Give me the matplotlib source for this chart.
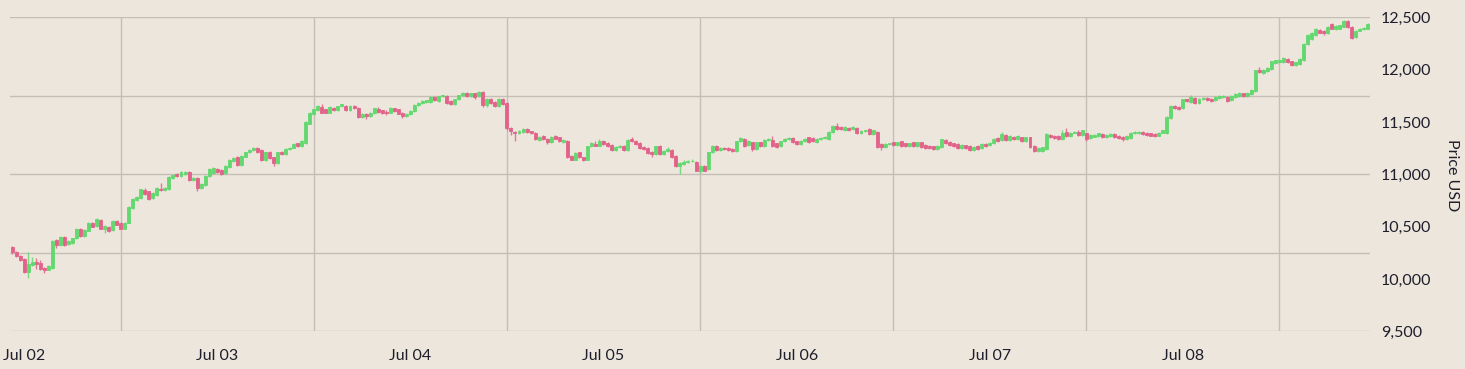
import matplotlib
matplotlib.use('Agg')
import matplotlib.pyplot as plt
import matplotlib.dates as mdates
import matplotlib.ticker as mticker
import pandas as pd

# ---- data (30-minute candles) ----
opens = [
    10308, 10260, 10222, 10191, 10064, 10134, 10166, 10150, 10109, 10090, 10109, 10371, 10324, 10403, 10330, 10340, 10387, 10475, 10412, 10463,
    10539, 10507, 10564, 10476, 10498, 10469, 10555, 10532, 10482, 10539, 10678, 10751, 10773, 10846, 10836, 10773, 10805, 10861, 10849, 10855,
    10963, 11001, 10982, 11004, 11026, 10941, 10963, 10868, 10900, 10982, 11013, 11051, 11045, 11013, 11067, 11130, 11168, 11089, 11170, 11209,
    11231, 11250, 11231, 11136, 11215, 11162, 11111, 11212, 11193, 11240, 11256, 11295, 11270, 11300, 11484, 11579, 11611, 11642, 11620, 11589,
    11636, 11617, 11649, 11652, 11617, 11652, 11636, 11547, 11579, 11557, 11585, 11624, 11610, 11598, 11589, 11630, 11620, 11590, 11554, 11579,
    11604, 11661, 11684, 11690, 11693, 11737, 11700, 11744, 11747, 11700, 11668, 11715, 11753, 11775, 11747, 11772, 11747, 11785, 11658, 11721,
    11690, 11652, 11721, 11683, 11446, 11405, 11393, 11400, 11430, 11410, 11393, 11330, 11367, 11342, 11310, 11367, 11352, 11310, 11320, 11172,
    11140, 11209, 11162, 11140, 11266, 11290, 11275, 11320, 11300, 11278, 11234, 11260, 11272, 11231, 11335, 11320, 11300, 11260, 11250, 11215,
    11193, 11266, 11193, 11225, 11235, 11172, 11076, 11100, 11114, 11125, 11120, 11035, 11083, 11051, 11209, 11273, 11231, 11255, 11250, 11240,
    11225, 11314, 11336, 11282, 11304, 11241, 11304, 11272, 11326, 11326, 11295, 11272, 11314, 11336, 11345, 11314, 11288, 11320, 11352, 11345,
    11304, 11336, 11345, 11336, 11400, 11462, 11452, 11420, 11446, 11430, 11446, 11390, 11415, 11430, 11383, 11408, 11288, 11257, 11288, 11304,
    11282, 11314, 11295, 11270, 11304, 11273, 11304, 11282, 11273, 11266, 11244, 11257, 11326, 11307, 11295, 11288, 11250, 11276, 11270, 11231,
    11270, 11250, 11290, 11276, 11295, 11345, 11326, 11377, 11326, 11358, 11333, 11352, 11320, 11352, 11270, 11219, 11225, 11238, 11377, 11367,
    11364, 11333, 11408, 11364, 11399, 11400, 11377, 11390, 11345, 11360, 11364, 11383, 11352, 11364, 11383, 11370, 11358, 11339, 11345, 11396,
    11396, 11402, 11396, 11390, 11383, 11370, 11399, 11390, 11541, 11652, 11645, 11636, 11715, 11690, 11731, 11677, 11721, 11728, 11721, 11709,
    11731, 11737, 11740, 11709, 11740, 11747, 11772, 11747, 11766, 11794, 11993, 11968, 11985, 12006, 12063, 12076, 12076, 12101, 12079, 12047,
    12057, 12095, 12246, 12291, 12329, 12379, 12373, 12348, 12436, 12386, 12392, 12411, 12468, 12411, 12310, 12373, 12386, 12392,
]
highs = [
    10318, 10270, 10232, 10200, 10254, 10213, 10200, 10180, 10118, 10138, 10372, 10380, 10412, 10412, 10370, 10395, 10484, 10484, 10474, 10548,
    10548, 10578, 10572, 10512, 10506, 10560, 10564, 10540, 10548, 10696, 10776, 10790, 10864, 10870, 10845, 10828, 10876, 10918, 10876, 10980,
    11002, 11009, 11028, 11034, 11034, 10977, 10971, 10917, 10996, 11059, 11065, 11059, 11053, 11091, 11144, 11163, 11176, 11185, 11217, 11239,
    11264, 11258, 11239, 11217, 11223, 11170, 11217, 11220, 11248, 11264, 11296, 11303, 11328, 11511, 11597, 11628, 11660, 11675, 11628, 11650,
    11644, 11657, 11676, 11660, 11660, 11660, 11644, 11587, 11587, 11591, 11638, 11645, 11618, 11615, 11644, 11638, 11628, 11598, 11587, 11612,
    11669, 11692, 11708, 11714, 11745, 11745, 11752, 11761, 11755, 11708, 11723, 11761, 11783, 11783, 11780, 11780, 11793, 11793, 11729, 11729,
    11698, 11729, 11729, 11691, 11454, 11413, 11423, 11440, 11440, 11418, 11401, 11368, 11375, 11350, 11368, 11375, 11360, 11337, 11328, 11180,
    11211, 11217, 11170, 11274, 11306, 11320, 11340, 11328, 11308, 11286, 11268, 11280, 11280, 11334, 11352, 11328, 11308, 11268, 11258, 11223,
    11274, 11280, 11233, 11260, 11243, 11180, 11116, 11140, 11133, 11150, 11128, 11091, 11091, 11217, 11281, 11281, 11258, 11263, 11258, 11248,
    11322, 11353, 11344, 11328, 11312, 11312, 11312, 11334, 11344, 11370, 11303, 11322, 11344, 11353, 11353, 11322, 11328, 11344, 11360, 11353,
    11344, 11353, 11366, 11416, 11470, 11494, 11460, 11460, 11454, 11460, 11454, 11423, 11428, 11438, 11428, 11416, 11296, 11296, 11303, 11312,
    11312, 11322, 11303, 11303, 11312, 11312, 11312, 11290, 11281, 11274, 11281, 11341, 11334, 11315, 11303, 11296, 11290, 11284, 11278, 11271,
    11278, 11296, 11298, 11309, 11347, 11353, 11400, 11385, 11372, 11366, 11372, 11360, 11360, 11360, 11278, 11258, 11265, 11391, 11385, 11375,
    11372, 11420, 11440, 11407, 11416, 11420, 11428, 11398, 11385, 11385, 11398, 11391, 11385, 11391, 11391, 11378, 11366, 11372, 11404, 11410,
    11410, 11410, 11404, 11398, 11391, 11407, 11428, 11553, 11660, 11660, 11653, 11723, 11723, 11760, 11739, 11729, 11739, 11736, 11729, 11748,
    11755, 11760, 11748, 11755, 11774, 11786, 11780, 11786, 11818, 12001, 12025, 12008, 12024, 12087, 12096, 12103, 12125, 12109, 12087, 12077,
    12109, 12254, 12343, 12362, 12400, 12387, 12381, 12419, 12450, 12425, 12431, 12476, 12476, 12419, 12381, 12394, 12406, 12444,
]
lows = [
    10240, 10212, 10170, 10055, 10007, 10125, 10100, 10088, 10060, 10082, 10100, 10300, 10316, 10315, 10322, 10332, 10380, 10404, 10404, 10455,
    10493, 10500, 10474, 10440, 10452, 10460, 10512, 10474, 10474, 10530, 10670, 10743, 10765, 10806, 10759, 10765, 10797, 10841, 10841, 10847,
    10955, 10974, 10974, 10996, 10933, 10933, 10840, 10860, 10892, 10974, 11005, 11012, 10996, 11005, 11059, 11122, 11078, 11081, 11162, 11201,
    11223, 11202, 11128, 11128, 11147, 11080, 11103, 11185, 11185, 11232, 11248, 11262, 11262, 11292, 11476, 11571, 11603, 11581, 11581, 11581,
    11609, 11609, 11641, 11609, 11609, 11622, 11539, 11539, 11530, 11549, 11577, 11590, 11577, 11570, 11581, 11597, 11572, 11540, 11546, 11571,
    11596, 11653, 11676, 11682, 11685, 11698, 11692, 11736, 11675, 11660, 11660, 11707, 11745, 11742, 11739, 11720, 11739, 11640, 11640, 11675,
    11644, 11644, 11660, 11420, 11375, 11320, 11385, 11392, 11392, 11385, 11327, 11322, 11327, 11290, 11302, 11334, 11312, 11302, 11154, 11132,
    11132, 11154, 11129, 11132, 11258, 11267, 11267, 11280, 11258, 11226, 11226, 11252, 11223, 11223, 11312, 11280, 11239, 11232, 11195, 11170,
    11185, 11185, 11185, 11217, 11154, 11068, 11005, 11092, 11106, 11117, 11027, 11010, 11027, 11043, 11201, 11223, 11223, 11232, 11223, 11211,
    11217, 11306, 11264, 11274, 11225, 11233, 11264, 11264, 11318, 11264, 11255, 11264, 11306, 11328, 11296, 11280, 11280, 11312, 11296, 11312,
    11296, 11328, 11337, 11328, 11392, 11422, 11422, 11412, 11412, 11422, 11382, 11382, 11407, 11375, 11375, 11255, 11232, 11249, 11280, 11274,
    11274, 11262, 11262, 11262, 11265, 11265, 11255, 11242, 11242, 11236, 11236, 11249, 11293, 11268, 11262, 11242, 11242, 11242, 11223, 11223,
    11236, 11242, 11262, 11268, 11287, 11312, 11318, 11318, 11318, 11325, 11325, 11312, 11312, 11249, 11211, 11211, 11217, 11230, 11344, 11337,
    11325, 11325, 11356, 11356, 11391, 11369, 11369, 11315, 11337, 11352, 11356, 11344, 11344, 11356, 11344, 11337, 11320, 11331, 11337, 11388,
    11388, 11375, 11369, 11362, 11359, 11362, 11391, 11382, 11533, 11625, 11619, 11628, 11688, 11682, 11669, 11669, 11713, 11701, 11694, 11701,
    11723, 11729, 11690, 11701, 11732, 11739, 11739, 11739, 11758, 11786, 11966, 11960, 11977, 11998, 12055, 12068, 12068, 12061, 12030, 12039,
    12049, 12087, 12238, 12283, 12321, 12346, 12330, 12340, 12384, 12378, 12384, 12403, 12397, 12292, 12302, 12365, 12378, 12384,
]
closes = [
    10254, 10222, 10181, 10064, 10140, 10166, 10140, 10096, 10090, 10128, 10362, 10324, 10403, 10324, 10362, 10387, 10475, 10412, 10466, 10539,
    10501, 10570, 10482, 10504, 10460, 10551, 10520, 10482, 10539, 10687, 10767, 10782, 10855, 10814, 10767, 10820, 10868, 10849, 10868, 10972,
    10994, 10982, 11020, 11026, 10941, 10969, 10868, 10909, 10988, 11051, 11057, 11020, 11004, 11083, 11136, 11155, 11086, 11177, 11209, 11231,
    11256, 11210, 11136, 11209, 11155, 11105, 11209, 11193, 11240, 11256, 11288, 11270, 11320, 11503, 11589, 11620, 11652, 11589, 11589, 11642,
    11617, 11649, 11668, 11617, 11652, 11630, 11547, 11579, 11557, 11583, 11630, 11598, 11585, 11589, 11636, 11605, 11580, 11554, 11579, 11604,
    11661, 11684, 11700, 11706, 11737, 11706, 11744, 11753, 11683, 11668, 11715, 11753, 11775, 11750, 11772, 11740, 11785, 11658, 11721, 11683,
    11652, 11721, 11668, 11446, 11415, 11393, 11415, 11430, 11400, 11393, 11335, 11360, 11335, 11310, 11360, 11342, 11320, 11329, 11162, 11140,
    11203, 11162, 11137, 11266, 11298, 11275, 11320, 11288, 11266, 11234, 11260, 11272, 11231, 11326, 11320, 11288, 11247, 11240, 11203, 11190,
    11266, 11193, 11225, 11240, 11162, 11076, 11108, 11120, 11125, 11130, 11035, 11083, 11035, 11209, 11273, 11231, 11250, 11240, 11231, 11219,
    11314, 11345, 11272, 11320, 11241, 11304, 11272, 11326, 11336, 11272, 11263, 11314, 11336, 11345, 11304, 11288, 11320, 11336, 11304, 11320,
    11336, 11345, 11358, 11408, 11462, 11430, 11430, 11452, 11420, 11452, 11390, 11415, 11420, 11383, 11420, 11263, 11257, 11288, 11295, 11282,
    11304, 11270, 11270, 11295, 11273, 11304, 11263, 11250, 11250, 11244, 11273, 11333, 11301, 11276, 11270, 11250, 11282, 11250, 11231, 11263,
    11244, 11288, 11270, 11301, 11339, 11320, 11383, 11326, 11364, 11333, 11364, 11320, 11352, 11257, 11219, 11250, 11257, 11383, 11352, 11345,
    11333, 11399, 11364, 11399, 11408, 11377, 11420, 11336, 11377, 11377, 11390, 11352, 11377, 11383, 11352, 11345, 11333, 11364, 11396, 11402,
    11402, 11383, 11377, 11370, 11367, 11399, 11420, 11545, 11652, 11633, 11627, 11715, 11696, 11740, 11677, 11721, 11731, 11709, 11702, 11740,
    11747, 11747, 11702, 11747, 11766, 11778, 11747, 11778, 11810, 11993, 11974, 12000, 12016, 12079, 12088, 12095, 12107, 12069, 12047, 12069,
    12101, 12246, 12335, 12354, 12392, 12354, 12348, 12411, 12392, 12417, 12423, 12468, 12405, 12300, 12373, 12386, 12398, 12436,
]
start_time = '2023-07-02 10:30'
interval = '30min'
day_labels = ['Jul 02', 'Jul 03', 'Jul 04', 'Jul 05', 'Jul 06', 'Jul 07', 'Jul 08']
price_ticks = [9500, 10000, 10500, 11000, 11500, 12000, 12500]
grid_prices = [9500, 10250, 11000, 11750, 12500]
y_title = 'Price USD'

# ---- style ----
BG = '#ede6dc'
UP = '#62d86f'
DOWN = '#e2628a'
GRID = '#c4beb5'
TXT = '#1e1e2c'
FS = 11.5
plt.rcParams['font.family'] = ['Lato', 'DejaVu Sans']

times = pd.date_range(start_time, periods=len(closes), freq=interval)
xs = mdates.date2num(times.to_pydatetime())
step = xs[1] - xs[0]

W, H = 1465, 369
fig = plt.figure(figsize=(W / 100, H / 100), dpi=100, facecolor=BG)
ax = fig.add_axes([10 / W, 37.7 / H, 1360 / W, 314 / H], facecolor=BG)

for xi, o, h, l, c in zip(xs, opens, highs, lows, closes):
    col = UP if c >= o else DOWN
    ax.vlines(xi, l, h, color=col, linewidth=1.0, alpha=0.85, zorder=3)
    ax.bar(xi, abs(c - o), bottom=min(o, c), width=step * 0.74, color=col,
           edgecolor=col, linewidth=0.6, zorder=4)

day0 = pd.Timestamp(start_time).normalize()
label_pos = [mdates.date2num((day0 + pd.Timedelta(days=i, hours=12)).to_pydatetime())
             for i in range(len(day_labels))]
grid_pos = [mdates.date2num((day0 + pd.Timedelta(days=i + 1)).to_pydatetime())
            for i in range(len(day_labels))]

ax.set_xlim(xs[0] - step / 2, xs[0] - step / 2 + 169 / 24)
ax.set_ylim(price_ticks[0], price_ticks[-1])

ax.xaxis.set_major_locator(mticker.FixedLocator(label_pos))
ax.xaxis.set_major_formatter(mticker.FixedFormatter(day_labels))
ax.xaxis.set_minor_locator(mticker.FixedLocator(grid_pos))
ax.yaxis.set_major_locator(mticker.FixedLocator(price_ticks))
ax.yaxis.set_major_formatter(mticker.FuncFormatter(lambda v, p: f'{int(v):,}'))
ax.yaxis.set_minor_locator(mticker.FixedLocator(grid_prices))
ax.yaxis.remove_overlapping_locs = False
ax.xaxis.remove_overlapping_locs = False
ax.yaxis.tick_right()

ax.grid(False, which='major')
ax.grid(True, which='minor', color=GRID, linewidth=1.0, zorder=0)
ax.set_axisbelow(True)
ax.tick_params(which='both', length=0)
ax.tick_params(axis='x', which='major', pad=13, labelsize=FS, labelcolor=TXT)
ax.tick_params(axis='y', which='major', pad=8, labelsize=FS, labelcolor=TXT)
for s in ax.spines.values():
    s.set_visible(False)

fig.text(1452 / W, 1 - 175 / H, y_title, rotation=-90, ha='center', va='center',
         fontsize=FS, color=TXT)

fig.savefig('out.png', dpi=100, facecolor=BG)
